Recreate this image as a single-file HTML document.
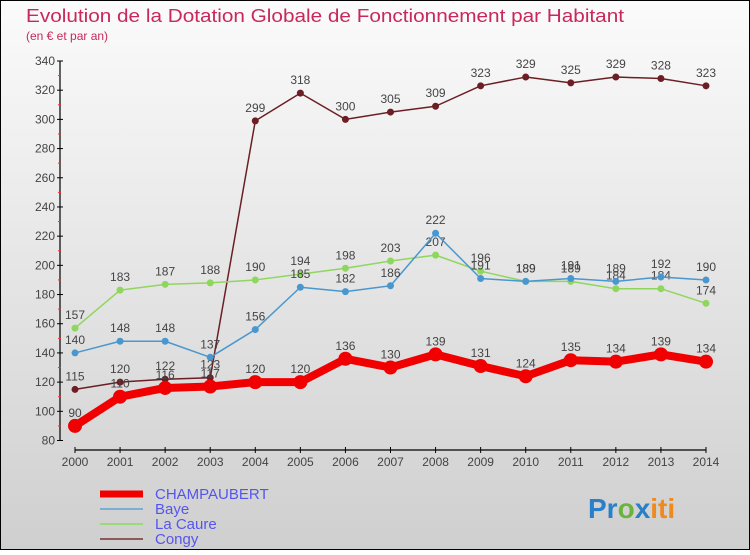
<!DOCTYPE html>
<html><head><meta charset="utf-8"><style>
body{margin:0;}
svg text{font-family:"Liberation Sans",sans-serif;}
</style></head><body>
<svg width="750" height="550" viewBox="0 0 750 550" xmlns="http://www.w3.org/2000/svg">
<defs><linearGradient id="bg" x1="0" y1="0" x2="0" y2="1"><stop offset="0" stop-color="#fbfbfb"/><stop offset="1" stop-color="#cfcfcf"/></linearGradient></defs>
<rect x="0.5" y="0.5" width="749" height="549" fill="url(#bg)" stroke="#000"/>
<text x="26" y="22" font-size="18" fill="#c8285a" textLength="598" lengthAdjust="spacingAndGlyphs">Evolution de la Dotation Globale de Fonctionnement par Habitant</text>
<text x="26" y="40" font-size="12" fill="#c8285a">(en € et par an)</text>
<g id="axes"></g>
<g id="series"></g>
<g id="legend"></g>
<text x="588" y="518" font-size="28" font-weight="bold"><tspan fill="#2a7fc9">Pr</tspan><tspan fill="#6cb33e">o</tspan><tspan fill="#2a7fc9">x</tspan><tspan fill="#f08a1c">iti</tspan></text>
</svg>
<script>
const years=[2000,2001,2002,2003,2004,2005,2006,2007,2008,2009,2010,2011,2012,2013,2014];
const yTicks=[80,100,120,140,160,180,200,220,240,260,280,300,320,340];
const champaubert=[90,110,116,117,120,120,136,130,139,131,124,135,134,139,134];
const baye=[140,148,148,137,156,185,182,186,222,191,189,191,189,192,190];
const laCaure=[157,183,187,188,190,194,198,203,207,196,189,189,184,184,174];
const congy=[115,120,122,123,299,318,300,305,309,323,329,325,329,328,323];
const NS="http://www.w3.org/2000/svg";
function X(i){return 75+i*(706-75)/(years.length-1);}
function Y(v){return 440.5-(v-80)*(379.5/260);}
function mk(tag,attrs,parent){const e=document.createElementNS(NS,tag);for(const k in attrs)e.setAttribute(k,attrs[k]);parent.appendChild(e);return e;}
const ax=document.getElementById('axes');
let yl=mk('line',{x1:60,y1:61,x2:60,y2:441,stroke:'#000','stroke-width':1.2},ax);


yTicks.forEach((t,i)=>{
 mk('line',{x1:57,y1:Y(t),x2:63,y2:Y(t),stroke:'#000'},ax);
 if(i<yTicks.length-1)mk('line',{x1:58,y1:Y(t+10),x2:61,y2:Y(t+10),stroke:'#e33'},ax);
 const tx=mk('text',{x:55,y:Y(t)+4,'font-size':12,'text-anchor':'end',fill:'#444'},ax);tx.textContent=t;
 
 
});
let xl=mk('line',{x1:75,y1:450,x2:706,y2:450,stroke:'#000','stroke-width':1.2},ax);


years.forEach((y,i)=>{
 mk('line',{x1:X(i),y1:447,x2:X(i),y2:453,stroke:'#000'},ax);
 const tx=mk('text',{x:X(i),y:466,'font-size':12,'text-anchor':'middle',fill:'#444'},ax);tx.textContent=y;
 
 
});
const sg=document.getElementById('series');
const series=[
 {name:'congy',data:congy,color:'#6b1f24',w:1.5,r:3.5},
 {name:'la-caure',data:laCaure,color:'#8fd65e',w:1.5,r:3.5},
 {name:'baye',data:baye,color:'#4a97cf',w:1.5,r:3.5},
 {name:'champaubert',data:champaubert,color:'#f00000',w:8,r:7}
];
series.forEach(s=>{
 const g=mk('g',{},sg);
 
 
 const p=mk('polyline',{points:s.data.map((v,i)=>X(i)+','+Y(v)).join(' '),fill:'none',stroke:s.color,'stroke-width':s.w,'stroke-linejoin':'round'},g);
 
 
 s.data.forEach((v,i)=>{
  const c=mk('circle',{cx:X(i),cy:Y(v),r:s.r,fill:s.color},g);
  
  
  const t=mk('text',{x:X(i),y:Y(v)-9,'font-size':12,'text-anchor':'middle',fill:'#444'},g);t.textContent=v;
  
  
 });
});
const lg=document.getElementById('legend');
const leg=[['CHAMPAUBERT','#f00000',7],['Baye','#7aaed4',2],['La Caure','#9bd97a',2],['Congy','#8b5a5a',2]];
leg.forEach((l,i)=>{
 const y=494+i*15;
 const g=mk('g',{},lg);
 
 
 mk('line',{x1:100,y1:y,x2:143,y2:y,stroke:l[1],'stroke-width':l[2]},g);
 const t=mk('text',{x:155,y:y+5,'font-size':15,fill:'#5555ee'},g);t.textContent=l[0];
});
</script>
</body></html>
